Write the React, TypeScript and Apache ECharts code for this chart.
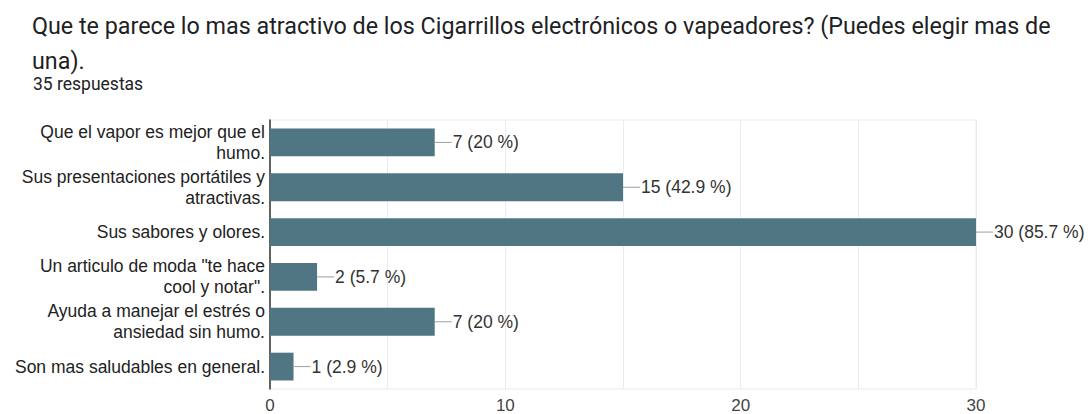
import React, { useEffect, useRef } from "react";
import * as echarts from "echarts";

const titleLines = [
  "Que te parece lo mas atractivo de los Cigarrillos electrónicos o vapeadores? (Puedes elegir mas de",
  "una).",
];
const subtitle = "35 respuestas";
const totalResponses = 35;
const categories = [
  "Que el vapor es mejor que el\nhumo.",
  "Sus presentaciones portátiles y\natractivas.",
  "Sus sabores y olores.",
  'Un articulo de moda "te hace\ncool y notar".',
  "Ayuda a manejar el estrés o\nansiedad sin humo.",
  "Son mas saludables en general.",
];
const counts = [7, 15, 30, 2, 7, 1];
const xMin = 0;
const xMax = 30;
const xInterval = 10;

const fmtPct = (v: number) => {
  const p = ((v / totalResponses) * 100).toFixed(1);
  return p.endsWith(".0") ? p.slice(0, -2) : p;
};

const sans = "Liberation Sans, Arial, sans-serif";

export default function App() {
  const ref = useRef<HTMLDivElement>(null);
  useEffect(() => {
    if (!ref.current) return;
    const chart = echarts.init(ref.current, undefined, { renderer: "svg" });
    chart.setOption({
      animation: false,
      backgroundColor: "#ffffff",
      title: [
        {
          text: titleLines.join("\n"),
          left: 27,
          top: 3,
          textStyle: {
            fontFamily: "Roboto",
            fontSize: 23.3,
            lineHeight: 35,
            fontWeight: "normal",
            color: "#202124",
          },
        },
        {
          text: subtitle,
          left: 28,
          top: 69,
          textStyle: {
            fontFamily: "Roboto",
            fontSize: 17.5,
            lineHeight: 20,
            fontWeight: "normal",
            color: "#202124",
          },
        },
      ],
      grid: {
        left: 270,
        right: 114,
        top: 120,
        bottom: 24,
        show: true,
        borderColor: "#ebebeb",
        borderWidth: 1,
      },
      xAxis: {
        type: "value",
        min: xMin,
        max: xMax,
        interval: xInterval,
        axisLine: { show: false },
        axisTick: { show: false },
        splitLine: { show: true, lineStyle: { color: "#ebebeb" } },
        minorTick: { show: false, splitNumber: 2 },
        minorSplitLine: { show: true, lineStyle: { color: "#ebebeb" } },
        axisLabel: {
          margin: 8,
          fontFamily: sans,
          fontSize: 17,
          color: "#444444",
        },
      },
      yAxis: {
        type: "category",
        inverse: true,
        data: categories,
        axisLine: { show: true, lineStyle: { color: "#333333", width: 1.5 } },
        axisTick: { show: false },
        splitLine: { show: false },
        axisLabel: {
          margin: 5,
          fontFamily: sans,
          fontSize: 17.5,
          lineHeight: 21,
          color: "#222222",
          align: "right",
        },
      },
      series: [
        {
          type: "bar",
          data: counts,
          barWidth: "62%",
          itemStyle: { color: "#507683" },
          label: {
            show: true,
            position: "right",
            distance: 0,
            formatter: (p: any) => `{ln| }{t|${p.value} (${fmtPct(p.value)} %)}`,
            rich: {
              ln: { width: 17, height: 1, backgroundColor: "#9e9e9e" },
              t: {
                fontFamily: sans,
                fontSize: 17.5,
                color: "#333333",
                padding: [0, 0, 0, 1],
              },
            },
          },
        },
      ],
    });
    return () => chart.dispose();
  }, []);
  return (
    <div
      ref={ref}
      style={{ position: "fixed", left: 0, top: 0, width: 1090, height: 414 }}
    />
  );
}
